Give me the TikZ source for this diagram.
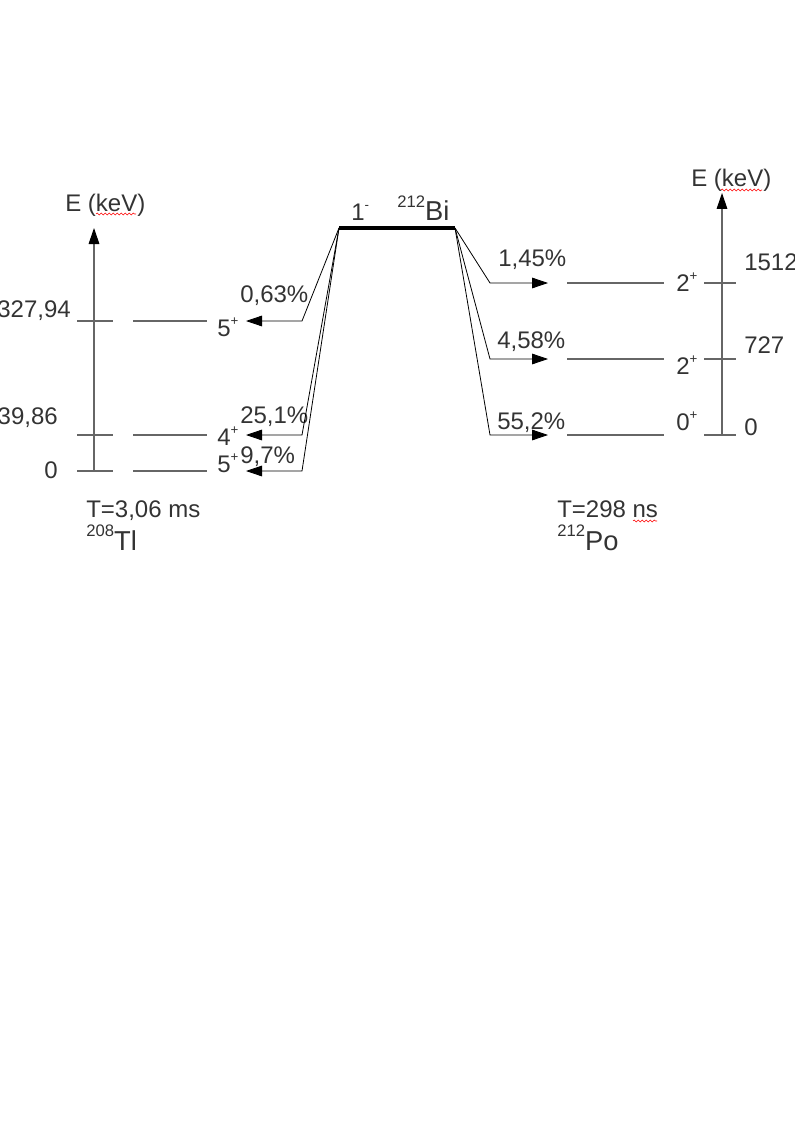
\documentclass[tikz,border=0pt]{standalone}
\usepackage{fontspec}
\setmainfont{Liberation Sans}
\usetikzlibrary{arrows.meta,decorations.pathmorphing}
\definecolor{txt}{HTML}{333333}
\definecolor{lvl}{HTML}{666666}
\newcommand\sps[1]{\raisebox{0.42em}{\fontsize{10}{10}\selectfont #1}}
\newcommand\spn[1]{\raisebox{0.5em}{\fontsize{12.5}{12}\selectfont #1}}
\begin{document}
\begin{tikzpicture}[x=0.75pt,y=-0.75pt,
 lbl/.style={font=\fontsize{18}{21}\selectfont, text=txt, inner sep=0pt, anchor=base west},
 lblr/.style={lbl, anchor=base east},
 nuc/.style={font=\fontsize{20.5}{24}\selectfont, text=txt, inner sep=0pt, anchor=base west},
 level/.style={draw=lvl, line width=0.8pt},
 axis/.style={draw=lvl, line width=0.8pt, -{Triangle[length=12pt,width=8pt,color=black]}},
 decay/.style={draw=black, line width=0.6pt, -{Triangle[length=12pt,width=8pt]}},
 spell/.style={draw=red, line width=0.4pt, decorate, decoration={snake, amplitude=0.7pt, segment length=3pt}}
]
\useasboundingbox (0,0) rectangle (794,1123);

% ---- left: 208Tl ----
\coordinate (laxb) at (94,471);
\coordinate (laxt) at (94,228);
\draw[axis] (laxb) -- (laxt);
\node[lbl] (lE) at (65,212) {E (keV)};
\draw[spell] (96,214) -- (136,214);

\foreach \n/\y in {a/321,b/435,c/471}{
  \coordinate (lt\n1) at (77,\y); \coordinate (lt\n2) at (113,\y);
  \draw[level] (lt\n1) -- (lt\n2);
  \coordinate (ll\n1) at (133,\y); \coordinate (ll\n2) at (207,\y);
  \draw[level] (ll\n1) -- (ll\n2);
}
\node[lblr] (e1) at (71,317) {327,94};
\node[lblr] (e2) at (58,424) {39,86};
\node[lblr] (e3) at (58,478) {0};

\node[lbl] (s1) at (217,336) {5\sps{+}};
\node[lbl] (s2) at (217,445) {4\sps{+}};
\node[lbl] (s3) at (217,472) {5\sps{+}};

\node[lbl] (p1) at (240,302) {0,63\%};
\node[lbl] (p2) at (240,423) {25,1\%};
\node[lbl] (p3) at (240,463) {9,7\%};

\node[lbl] (tl) at (86,517) {T=3,06 ms};
\node[nuc] (tlname) at (86,550) {\spn{208}Tl};

% ---- Bi ----
\coordinate (bil) at (339,228);
\coordinate (bir) at (455,228);
\draw[line width=3pt] (bil) -- (bir);
\node[lbl] (bispin) at (351,220) {1\sps{-}};
\node[nuc] (bi) at (397,221) {\spn{212}Bi};

\coordinate (cl1) at (302,321); \coordinate (tl1) at (246,321);
\coordinate (cl2) at (302,435); \coordinate (tl2) at (246,435);
\coordinate (cl3) at (302,471); \coordinate (tl3) at (246,471);
\draw[decay] (bil) -- (cl1) -- (tl1);
\draw[decay] (bil) -- (cl2) -- (tl2);
\draw[decay] (bil) -- (cl3) -- (tl3);

\coordinate (cr1) at (490,283); \coordinate (tr1) at (548,283);
\coordinate (cr2) at (490,359); \coordinate (tr2) at (548,359);
\coordinate (cr3) at (490,435); \coordinate (tr3) at (548,435);
\draw[decay] (bir) -- (cr1) -- (tr1);
\draw[decay] (bir) -- (cr2) -- (tr2);
\draw[decay] (bir) -- (cr3) -- (tr3);

% ---- right: 212Po ----
\coordinate (raxb) at (722,435);
\coordinate (raxt) at (722,193);
\draw[axis] (raxb) -- (raxt);
\node[lbl] (rE) at (691,187) {E (keV)};
\draw[spell] (721,190) -- (762,190);

\foreach \n/\y in {a/283,b/359,c/435}{
  \coordinate (rl\n1) at (567,\y); \coordinate (rl\n2) at (664,\y);
  \draw[level] (rl\n1) -- (rl\n2);
  \coordinate (rt\n1) at (704,\y); \coordinate (rt\n2) at (736,\y);
  \draw[level] (rt\n1) -- (rt\n2);
}
\node[lbl] (f1) at (744,270) {1512};
\node[lbl] (f2) at (744,353) {727};
\node[lbl] (f3) at (744,435) {0};

\node[lbl] (r1) at (676,291) {2\sps{+}};
\node[lbl] (r2) at (676,374) {2\sps{+}};
\node[lbl] (r3) at (676,430) {0\sps{+}};

\node[lbl] (q1) at (498,267) {1,45\%};
\node[lbl] (q2) at (497,348) {4,58\%};
\node[lbl] (q3) at (497,429) {55,2\%};

\node[lbl] (tp) at (557,517) {T=298 ns};
\draw[spell] (633,521) -- (657,521);
\node[nuc] (poname) at (557,550) {\spn{212}Po};
\end{tikzpicture}
\end{document}
